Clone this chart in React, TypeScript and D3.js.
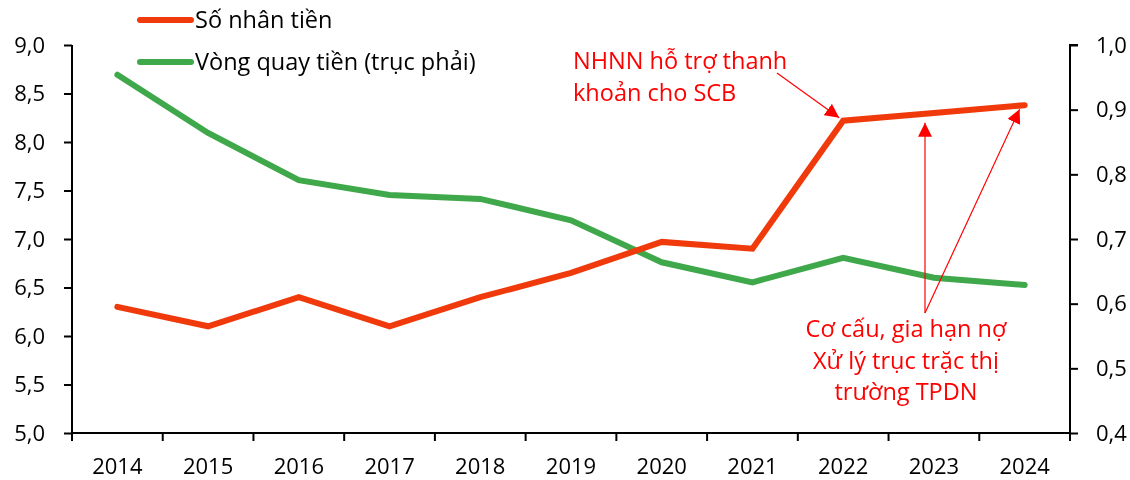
import { useRef, useEffect } from 'react';
import * as d3 from 'd3';

const years = ['2014', '2015', '2016', '2017', '2018', '2019', '2020', '2021', '2022', '2023', '2024'];
const moneyMultiplier = [6.3, 6.1, 6.4, 6.1, 6.4, 6.65, 6.97, 6.9, 8.22, 8.3, 8.38];
const moneyVelocity = [0.954, 0.864, 0.791, 0.768, 0.762, 0.729, 0.664, 0.633, 0.671, 0.64, 0.629];
const leftTicks = [5, 5.5, 6, 6.5, 7, 7.5, 8, 8.5, 9];
const rightTicks = [0.4, 0.5, 0.6, 0.7, 0.8, 0.9, 1.0];

const W = 1130;
const H = 480;
const FONT = "'Open Sans', sans-serif";
const RED = '#f03a0c';
const GREEN = '#3ea84a';
const NOTE = '#ff0000';

export default function App() {
  const svgRef = useRef<SVGSVGElement | null>(null);

  useEffect(() => {
    const svg = d3.select(svgRef.current);
    svg.selectAll('*').remove();

    const x = d3.scaleBand().domain(years).range([72, 1070]);
    const yL = d3.scaleLinear().domain([5, 9]).range([433, 45]);
    const yR = d3.scaleLinear().domain([0.4, 1.0]).range([433, 45]);
    const fmt = (d: number) => d3.format('.1f')(d).replace('.', ',');

    const defs = svg.append('defs');
    defs
      .append('marker')
      .attr('id', 'arrow')
      .attr('viewBox', '0 0 10 10')
      .attr('refX', 10)
      .attr('refY', 5)
      .attr('markerWidth', 14)
      .attr('markerHeight', 14)
      .attr('markerUnits', 'userSpaceOnUse')
      .attr('orient', 'auto')
      .append('path')
      .attr('d', 'M0,0 L10,5 L0,10 z')
      .attr('fill', NOTE);

    // axes
    const gL = svg
      .append('g')
      .attr('transform', 'translate(72,0)')
      .call(d3.axisLeft(yL).tickValues(leftTicks).tickFormat(fmt).tickSize(8).tickPadding(19));
    const gR = svg
      .append('g')
      .attr('transform', 'translate(1070,0)')
      .call(d3.axisRight(yR).tickValues(rightTicks).tickFormat(fmt).tickSize(8).tickPadding(18));
    const gX = svg
      .append('g')
      .attr('transform', 'translate(0,433)')
      .call(d3.axisBottom(x).tickSize(0).tickPadding(25));

    const bounds = years.map((_, i) => 72 + i * x.step()).concat([1070]);
    gX.selectAll('.bound')
      .data(bounds)
      .join('line')
      .attr('class', 'bound')
      .attr('x1', d => d)
      .attr('x2', d => d)
      .attr('y1', 0)
      .attr('y2', 8)
      .attr('stroke', '#000')
      .attr('stroke-width', 2);

    [gL, gR, gX].forEach(g => {
      g.attr('font-family', FONT).attr('font-size', 22);
      g.selectAll('.domain').attr('stroke', '#000').attr('stroke-width', 2);
      g.selectAll('.tick line').attr('stroke', '#000').attr('stroke-width', 2);
      g.selectAll('text').attr('fill', '#000');
    });
    gL.select('.domain').attr('d', 'M0,45V433');
    gR.select('.domain').attr('d', 'M8,45H0V433');
    gX.select('.domain').attr('d', 'M72,0H1070');

    const cx = (d: string) => (x(d) as number) + x.bandwidth() / 2;

    const lineL = d3
      .line<number>()
      .x((_, i) => cx(years[i]))
      .y(d => yL(d));
    const lineR = d3
      .line<number>()
      .x((_, i) => cx(years[i]))
      .y(d => yR(d));

    svg
      .append('path')
      .datum(moneyVelocity)
      .attr('d', lineR)
      .attr('fill', 'none')
      .attr('stroke', GREEN)
      .attr('stroke-width', 6)
      .attr('stroke-linecap', 'round');

    svg
      .append('path')
      .datum(moneyMultiplier)
      .attr('d', lineL)
      .attr('fill', 'none')
      .attr('stroke', RED)
      .attr('stroke-width', 6)
      .attr('stroke-linecap', 'round');

    // legend
    const legend = [
      { label: 'Số nhân tiền', color: RED, y: 20 },
      { label: 'Vòng quay tiền (trục phải)', color: GREEN, y: 62 },
    ];
    const lg = svg.append('g');
    lg.selectAll('line')
      .data(legend)
      .join('line')
      .attr('x1', 140)
      .attr('x2', 191)
      .attr('y1', d => d.y)
      .attr('y2', d => d.y)
      .attr('stroke', d => d.color)
      .attr('stroke-width', 6)
      .attr('stroke-linecap', 'round');
    lg.selectAll('text')
      .data(legend)
      .join('text')
      .attr('x', 195)
      .attr('y', d => d.y + 8)
      .attr('font-family', FONT)
      .attr('font-size', 23.5)
      .text(d => d.label);

    // annotations
    const note1 = ['NHNN hỗ trợ thanh', 'khoản cho SCB'];
    svg
      .append('text')
      .attr('font-family', FONT)
      .attr('font-size', 23.5)
      .attr('fill', NOTE)
      .selectAll('tspan')
      .data(note1)
      .join('tspan')
      .attr('x', 573)
      .attr('y', (_, i) => 69 + i * 32)
      .text(d => d);

    const note2 = ['Cơ cấu, gia hạn nợ', 'Xử lý trục trặc thị', 'trường TPDN'];
    svg
      .append('text')
      .attr('font-family', FONT)
      .attr('font-size', 23.5)
      .attr('fill', NOTE)
      .attr('text-anchor', 'middle')
      .selectAll('tspan')
      .data(note2)
      .join('tspan')
      .attr('x', 906)
      .attr('y', (_, i) => 337 + i * 31.5)
      .text(d => d);

    const arrows = [
      { x1: 777, y1: 73, x2: cx('2022') - 4, y2: yL(moneyMultiplier[8]) - 3 },
      { x1: 925, y1: 313, x2: 925, y2: yL(8.26) + 6 },
      { x1: 925, y1: 313, x2: cx('2024') - 5, y2: yL(moneyMultiplier[10]) + 4 },
    ];
    svg
      .append('g')
      .selectAll('line')
      .data(arrows)
      .join('line')
      .attr('x1', d => d.x1)
      .attr('y1', d => d.y1)
      .attr('x2', d => d.x2)
      .attr('y2', d => d.y2)
      .attr('stroke', NOTE)
      .attr('stroke-width', 1.2)
      .attr('marker-end', 'url(#arrow)');
  }, []);

  return (
    <div style={{ position: 'fixed', left: 0, top: 0, width: W, height: H, overflow: 'hidden' }}>
      <svg ref={svgRef} width={W} height={H} style={{ display: 'block' }} />
    </div>
  );
}
